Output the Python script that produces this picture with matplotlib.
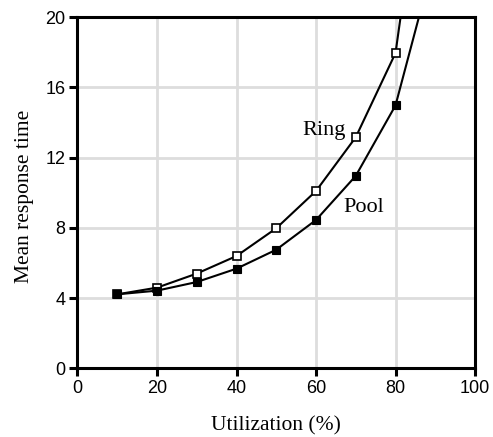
import matplotlib
matplotlib.use("Agg")
import matplotlib.pyplot as plt

# Mean response time vs. utilization for two schedulers
utilization = [10, 20, 30, 40, 50, 60, 70, 80, 90]
ring_time = [4.22, 4.6, 5.4, 6.4, 7.98, 10.1, 13.16, 17.95, 34.0]
pool_time = [4.22, 4.43, 4.92, 5.68, 6.76, 8.45, 10.96, 14.97, 23.5]

x_ticks = [0, 20, 40, 60, 80, 100]
y_ticks = [0, 4, 8, 12, 16, 20]

fig = plt.figure(figsize=(4.93, 4.37), dpi=100)
ax = fig.add_axes([0.1572, 0.1568, 0.8063, 0.8042])

ax.plot(utilization, ring_time, color="black", lw=1.5, marker="s", ms=5.4,
        mfc="white", mec="black", mew=1.2, zorder=3)
ax.plot(utilization, pool_time, color="black", lw=1.5, marker="s", ms=5.3,
        mfc="black", mec="black", mew=0.8, zorder=4)

ax.set_xlim(0, 100)
ax.set_ylim(0, 20)
ax.set_xticks(x_ticks)
ax.set_yticks(y_ticks)
ax.grid(True, color="#dddddd", lw=2)
ax.set_axisbelow(True)

for s in ax.spines.values():
    s.set_linewidth(2.2)
ax.tick_params(direction="out", length=5.5, width=2.2,
               labelsize=13, pad=3)
for lab in ax.get_xticklabels() + ax.get_yticklabels():
    lab.set_family("Liberation Sans")

serif = "Liberation Serif"
ax.set_xlabel("Utilization (%)", family=serif, fontsize=15.5)
ax.set_ylabel("Mean response time", family=serif, fontsize=15.5)
ax.xaxis.set_label_coords(0.5, -0.135)
ax.yaxis.set_label_coords(-0.109, 0.49)

ax.text(56.5, 13.28, "Ring", family=serif, fontsize=16, ha="left", va="baseline")
ax.text(66.8, 8.89, "Pool", family=serif, fontsize=16, ha="left", va="baseline")

fig.savefig("out.png", dpi=100)
